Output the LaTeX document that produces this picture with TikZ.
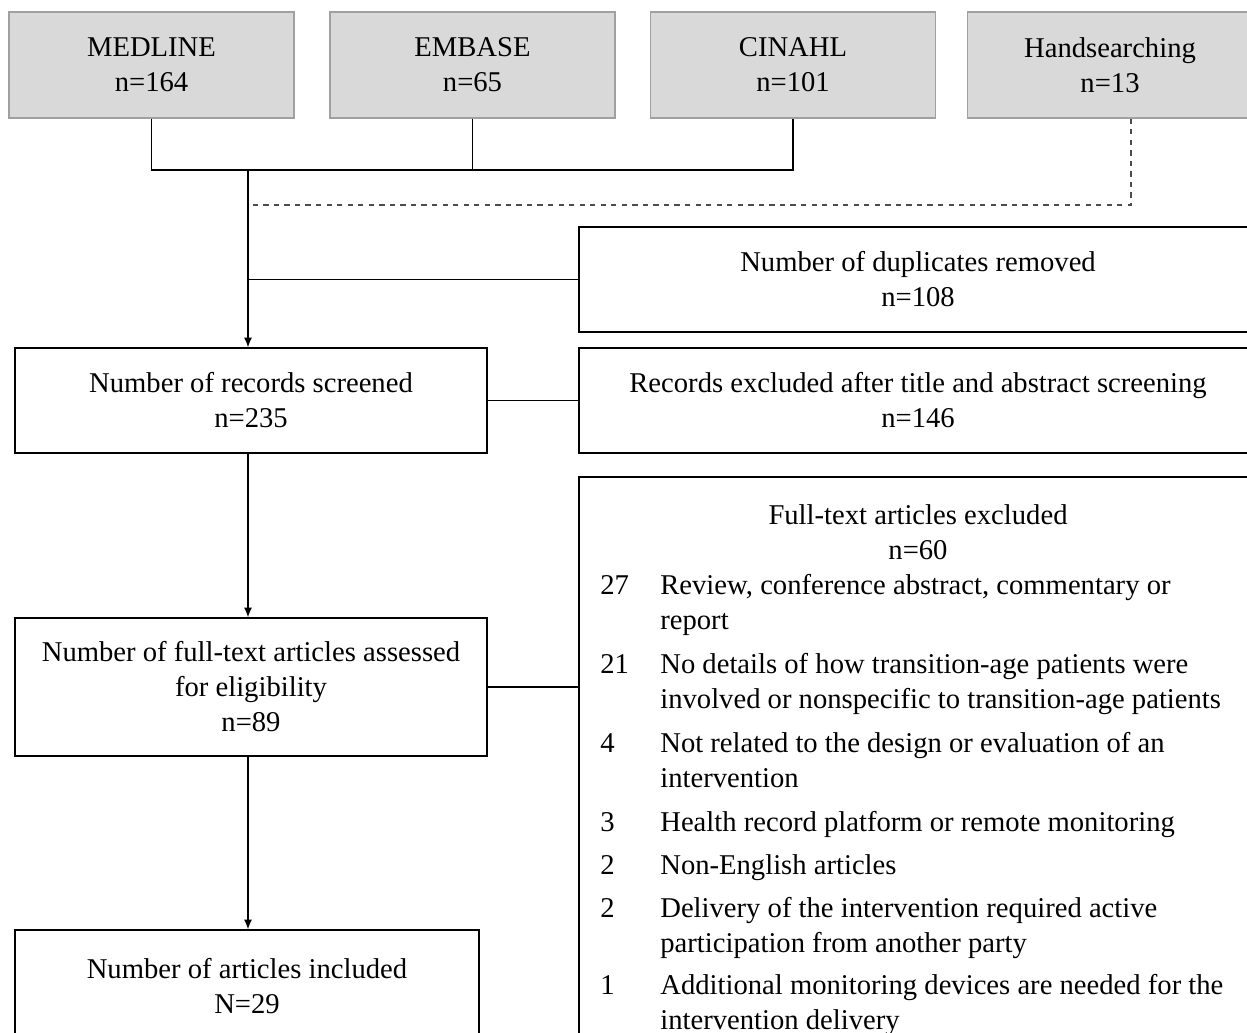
\documentclass[tikz,border=0pt]{standalone}
\usepackage{fontspec}
\setmainfont{Liberation Serif}
\usetikzlibrary{calc,positioning,arrows.meta}
\definecolor{boxgray}{HTML}{D9D9D9}
\definecolor{edgegray}{HTML}{A0A0A0}

\begin{document}
\begin{tikzpicture}[x=0.02cm,y=-0.02cm,
  font=\fontsize{16.3}{19.9}\selectfont,
  dbbox/.style={draw=edgegray,fill=boxgray,line width=0.75pt,align=center,
    minimum width=5.7cm,minimum height=2.12cm,inner sep=0pt,
    execute at begin node={\rule{0pt}{14.5pt}}},
  stagebox/.style={draw,line width=0.75pt,align=center,inner sep=0pt,
    execute at begin node={\rule{0pt}{14.5pt}}},
  link/.style={line width=0.75pt},
  flow/.style={link,-{Latex[length=5.5pt,width=4.5pt]}}]
\useasboundingbox (0,0) rectangle (1247,1032);
\clip (0,0) rectangle (1247,1032);

% sources
\node[dbbox] (medline) at (151.5,65) {MEDLINE\\n=164};
\node[dbbox] (embase) at (472.5,65) {EMBASE\\n=65};
\node[dbbox] (cinahl) at (793,65) {CINAHL\\n=101};
\node[dbbox] (hand) at (1110,65) {Handsearching\\n=13};

% stages
\node[stagebox,minimum width=13.56cm,minimum height=2.1cm] (dupl) at (918,279.5)
  {Number of duplicates removed\\n=108};
\node[stagebox,minimum width=9.44cm,minimum height=2.1cm] (screened) at (251,400.5)
  {Number of records screened\\n=235};
\node[stagebox,minimum width=13.56cm,minimum height=2.1cm] (excl) at (918,400.5)
  {Records excluded after title and abstract screening\\n=146};
\node[stagebox,minimum width=9.44cm,minimum height=2.76cm] (fulltext) at (251,687)
  {Number of full-text articles assessed\\for eligibility\\n=89};
\node[stagebox,minimum width=9.28cm,minimum height=2.24cm] (included) at (247,986)
  {Number of articles included\\N=29};
\node[draw,line width=0.75pt,minimum width=13.56cm,minimum height=11.66cm] (ftexcl) at (918,768.5) {};

% reasons for exclusion
\node[anchor=north,inner sep=0pt] (fttitle) at (918,500)
  {\begin{tabular}{@{}c@{}}Full-text articles excluded\\n=60\end{tabular}};
\node[anchor=north west,inner sep=0pt] (ftlist) at (600,569.5)
  {\begin{tabular}{@{}p{1.2cm}@{}l@{}}
  27 & Review, conference abstract, commentary or\\
     & report\\[0.18cm]
  21 & No details of how transition-age patients were\\
     & involved or nonspecific to transition-age patients\\[0.18cm]
  4  & Not related to the design or evaluation of an\\
     & intervention\\[0.18cm]
  3  & Health record platform or remote monitoring\\[0.16cm]
  2  & Non-English articles\\[0.16cm]
  2  & Delivery of the intervention required active\\
     & participation from another party\\[0.16cm]
  1  & Additional monitoring devices are needed for the\\
     & intervention delivery
  \end{tabular}};

% connectors
\coordinate (trunk) at (248,170);
\coordinate (dashjoin) at (248,205);
\draw[link] (medline.south) |- (cinahl.south |- trunk) -- (cinahl.south);
\draw[link] (embase.south) -- (embase.south |- trunk);
\draw[link,dashed,draw=black!70] ($(hand.south)+(21,0)$) |- (dashjoin);
\draw[flow] (trunk) -- (trunk |- screened.north);
\draw[link] (dupl.west) -- (dupl.west -| trunk);
\draw[link] (screened.east) -- (excl.west);
\draw[flow] (screened.south -| trunk) -- (trunk |- fulltext.north);
\draw[link] (fulltext.east) -- (fulltext.east -| ftexcl.west);
\draw[flow] (fulltext.south -| trunk) -- (trunk |- included.north);
\end{tikzpicture}
\end{document}
